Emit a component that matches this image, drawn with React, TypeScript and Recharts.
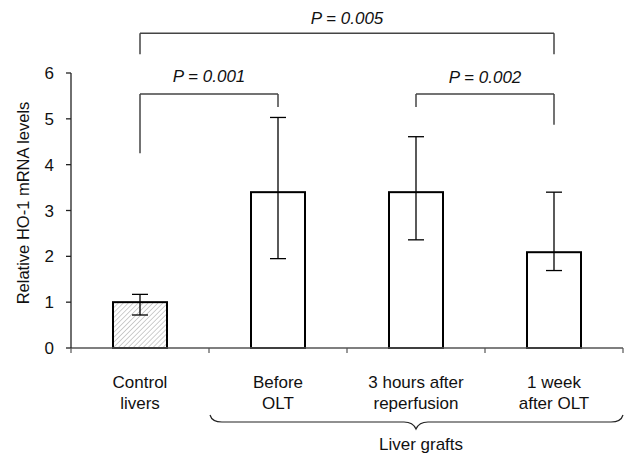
import React from 'react';
import { BarChart, Bar, XAxis, YAxis, ErrorBar, ReferenceLine, Label } from 'recharts';

const categories = ['Control livers', 'Before OLT', '3 hours after reperfusion', '1 week after OLT'];
const categoryLines = [['Control', 'livers'], ['Before', 'OLT'], ['3 hours after', 'reperfusion'], ['1 week', 'after OLT']];
const means = [1.0, 3.4, 3.4, 2.09];
const errLow = [0.28, 1.45, 1.04, 0.4];
const errHigh = [0.17, 1.63, 1.21, 1.31];
const hatched = [true, false, false, false];
const yTicks = [0, 1, 2, 3, 4, 5, 6];
const yLabel = 'Relative HO-1 mRNA levels';
const groupLabel = 'Liver grafts';

const cmpFrom = ['Control livers', 'Control livers', '3 hours after reperfusion'];
const cmpTo = ['1 week after OLT', 'Before OLT', '1 week after OLT'];
const cmpLabel = ['P = 0.005', 'P = 0.001', 'P = 0.002'];
const cmpLevel = [6.87, 5.54, 5.54];
const cmpFromEnd = [6.41, 4.25, 5.26];
const cmpToEnd = [6.41, 5.26, 4.87];
const cmpLabelGap = [9, 12, 11];

const data = categories.map((name, i) => ({
  name,
  value: means[i],
  err: [errLow[i], errHigh[i]],
  hatched: hatched[i],
}));

const W = 626;
const H = 454;
const M_LEFT = 71;
const M_RIGHT = 3;
const BW = (W - M_LEFT - M_RIGHT) / categories.length;
const FONT = 'Liberation Sans, Arial, Helvetica, sans-serif';

const BarShape = (props: any) => {
  const { x, y, width, height, payload } = props;
  return (
    <g>
      <defs>
        <pattern id="hatch" patternUnits="userSpaceOnUse" width={3.5} height={3.5} patternTransform="rotate(45)">
          <rect x={0} y={0} width={3.5} height={3.5} fill="#fff" />
          <line x1={0} y1={0} x2={0} y2={3.5} stroke="#a8a8a8" strokeWidth={1.1} />
        </pattern>
      </defs>
      <rect x={x} y={y} width={width} height={height} fill={payload && payload.hatched ? 'url(#hatch)' : '#fff'} stroke="#000" strokeWidth={2} />
    </g>
  );
};

const CatTick = (props: any) => {
  const { x, y, index } = props;
  const lines = categoryLines[index] || [];
  const last = index === categories.length - 1;
  return (
    <g>
      <line x1={x - BW / 2} y1={y} x2={x - BW / 2} y2={y + 5} stroke="#555" strokeWidth={1.2} />
      {last && <line x1={x + BW / 2} y1={y} x2={x + BW / 2} y2={y + 5} stroke="#555" strokeWidth={1.2} />}
      <text x={x} y={y + 40} textAnchor="middle" fontSize={17} fontFamily={FONT} fill="#111">
        {lines.map((l: string, k: number) => (
          <tspan key={k} x={x} dy={k === 0 ? 0 : 21}>{l}</tspan>
        ))}
      </text>
      {last && (() => {
        const x0 = x - 2.5 * BW + 1;
        const x1 = x + BW / 2;
        const xm = x - BW;
        const yb = y + 74;
        return (
          <g>
            <path
              d={`M${x0},${yb - 7} Q${x0 + 2},${yb} ${x0 + 12},${yb} L${xm - 12},${yb} Q${xm - 3},${yb} ${xm},${yb + 7} Q${xm + 3},${yb} ${xm + 12},${yb} L${x1 - 12},${yb} Q${x1 - 2},${yb} ${x1},${yb - 7}`}
              fill="none"
              stroke="#222"
              strokeWidth={1.2}
            />
            <text x={xm + 5} y={yb + 28} textAnchor="middle" fontSize={17} fontFamily={FONT} fill="#111">{groupLabel}</text>
          </g>
        );
      })()}
    </g>
  );
};

export default function App() {
  return (
    <div style={{ position: 'absolute', left: 0, top: 0, background: '#fff' }}>
      <BarChart width={W} height={H} data={data} margin={{ top: 73, right: M_RIGHT, bottom: 0, left: 0 }} barSize={54}>
        <XAxis
          dataKey="name"
          height={106}
          interval={0}
          tickLine={false}
          tickSize={0}
          tickMargin={0}
          axisLine={{ stroke: '#555', strokeWidth: 1.3 }}
          tick={<CatTick />}
        />
        <YAxis
          domain={[0, 6]}
          ticks={yTicks}
          width={M_LEFT}
          tickSize={5}
          tickMargin={12}
          axisLine={{ stroke: '#222', strokeWidth: 1.3 }}
          tickLine={{ stroke: '#222', strokeWidth: 1.3 }}
          tick={{ fill: '#111', fontSize: 17, fontFamily: FONT }}
        >
          <Label
            content={() => (
              <text x={23} y={203} transform="rotate(-90, 23, 203)" textAnchor="middle" dominantBaseline="central" fontSize={16.5} fontFamily={FONT} fill="#111">
                {yLabel}
              </text>
            )}
          />
        </YAxis>
        <Bar dataKey="value" isAnimationActive={false} shape={<BarShape />}>
          <ErrorBar dataKey="err" width={8} stroke="#000" strokeWidth={1.3} direction="y" />
        </Bar>
        {cmpLabel.map((lab, i) => (
          <ReferenceLine
            key={'h' + i}
            segment={[{ x: cmpFrom[i], y: cmpLevel[i] }, { x: cmpTo[i], y: cmpLevel[i] }]}
            stroke="#444"
            strokeWidth={1.5}
            ifOverflow="visible"
            label={{
              content: (p: any) => {
                const vb = p.viewBox || {};
                return (
                  <text x={vb.x + vb.width / 2} y={vb.y - cmpLabelGap[i]} textAnchor="middle" fontSize={17} fontStyle="italic" fontFamily={FONT} fill="#111">
                    {lab}
                  </text>
                );
              },
            }}
          />
        ))}
        {cmpLabel.map((lab, i) => (
          <ReferenceLine
            key={'l' + i}
            segment={[{ x: cmpFrom[i], y: cmpLevel[i] }, { x: cmpFrom[i], y: cmpFromEnd[i] }]}
            stroke="#444"
            strokeWidth={1.5}
            ifOverflow="visible"
          />
        ))}
        {cmpLabel.map((lab, i) => (
          <ReferenceLine
            key={'r' + i}
            segment={[{ x: cmpTo[i], y: cmpLevel[i] }, { x: cmpTo[i], y: cmpToEnd[i] }]}
            stroke="#444"
            strokeWidth={1.5}
            ifOverflow="visible"
          />
        ))}
      </BarChart>
    </div>
  );
}
